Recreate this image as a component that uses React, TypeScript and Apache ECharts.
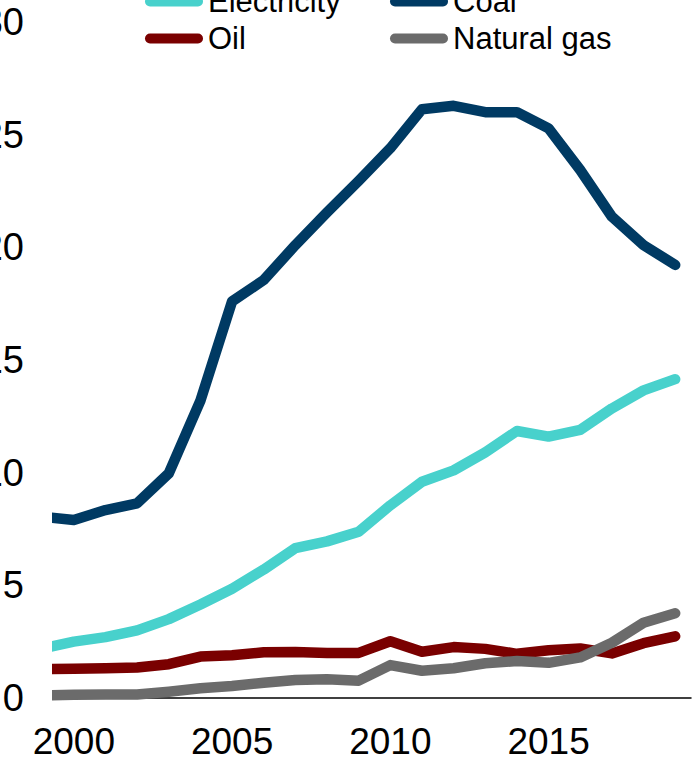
import React, { useEffect, useRef } from "react";
import * as echarts from "echarts";

const years = [1999, 2000, 2001, 2002, 2003, 2004, 2005, 2006, 2007, 2008, 2009, 2010, 2011, 2012, 2013, 2014, 2015, 2016, 2017, 2018, 2019];
const electricity = [2.2, 2.5, 2.7, 3.0, 3.5, 4.15, 4.85, 5.7, 6.65, 6.95, 7.38, 8.55, 9.6, 10.1, 10.9, 11.85, 11.6, 11.9, 12.85, 13.65, 14.15];
const coal = [8.05, 7.9, 8.34, 8.64, 9.97, 13.2, 17.6, 18.55, 20.1, 21.55, 22.95, 24.4, 26.13, 26.28, 26.0, 26.0, 25.28, 23.43, 21.36, 20.1, 19.22];
const oil = [1.28, 1.3, 1.32, 1.35, 1.5, 1.84, 1.9, 2.03, 2.04, 2.0, 2.0, 2.52, 2.05, 2.26, 2.18, 1.96, 2.12, 2.2, 1.98, 2.43, 2.74];
const gas = [0.12, 0.14, 0.15, 0.16, 0.28, 0.43, 0.53, 0.68, 0.8, 0.83, 0.77, 1.46, 1.21, 1.32, 1.54, 1.64, 1.56, 1.8, 2.45, 3.34, 3.76];
const yTicks = [0, 5, 10, 15, 20, 25, 30];
const xTickLabels = [2000, 2005, 2010, 2015];

const seriesNames = ["Electricity", "Coal", "Oil", "Natural gas"];
const seriesColors = ["#48D1CC", "#003A63", "#7A0000", "#6B6B6B"];
const seriesValues = [electricity, coal, oil, gas];

const OX = 60;
const OY = 40;
const FONT = "'Liberation Sans', Arial, sans-serif";
const ICON = "path://M5,0 H53 A5,5 0 0 1 53,10 H5 A5,5 0 0 1 5,0 Z";

export default function App() {
  const ref = useRef<HTMLDivElement>(null);
  useEffect(() => {
    if (!ref.current) return;
    const chart = echarts.init(ref.current, undefined, { renderer: "svg" });
    const legendPos = [
      { left: 145, top: 3 },
      { left: 390, top: 3 },
      { left: 145, top: 40 },
      { left: 390, top: 40 },
    ];
    chart.setOption({
      animation: false,
      backgroundColor: "#ffffff",
      textStyle: { fontFamily: FONT },
      grid: { left: 58 + OX, right: 1, top: 22 + OY, bottom: 73, containLabel: false },
      legend: seriesNames.map((n, i) => ({
        data: [n],
        left: legendPos[i].left + OX,
        top: legendPos[i].top + OY - 17,
        padding: 0,
        icon: ICON,
        itemWidth: 58,
        itemHeight: 10,
        selectedMode: false,
        textStyle: { fontSize: 31, color: "#000", fontFamily: FONT },
      })),
      xAxis: {
        type: "value",
        min: 1999.5,
        max: 2019.5,
        splitLine: { show: false },
        axisTick: { show: false },
        axisLine: { show: true, onZero: false, lineStyle: { color: "#000", width: 1.5 } },
        axisLabel: {
          customValues: xTickLabels,
          margin: 25,
          fontSize: 37,
          color: "#000",
          fontFamily: FONT,
          formatter: (v: number) => String(v),
        },
      },
      yAxis: {
        type: "value",
        min: 0,
        max: 30,
        interval: 5,
        splitLine: { show: false },
        axisTick: { show: false },
        axisLine: { show: false },
        axisLabel: {
          margin: 34,
          fontSize: 38,
          color: "#000",
          fontFamily: FONT,
          customValues: yTicks,
        },
      },
      series: seriesNames.map((n, i) => ({
        name: n,
        type: "line",
        data: years.map((y, k) => [y, seriesValues[i][k]]),
        showSymbol: false,
        symbol: "none",
        clip: true,
        color: seriesColors[i],
        lineStyle: { color: seriesColors[i], width: 10.5, cap: "round", join: "round" },
        emphasis: { disabled: true },
      })),
    });
    return () => chart.dispose();
  }, []);
  return (
    <div style={{ position: "fixed", left: 0, top: 0, width: 692, height: 771, overflow: "hidden", background: "#fff" }}>
      <div ref={ref} style={{ position: "absolute", left: -OX, top: -OY, width: 692 + OX, height: 771 + OY }} />
    </div>
  );
}
